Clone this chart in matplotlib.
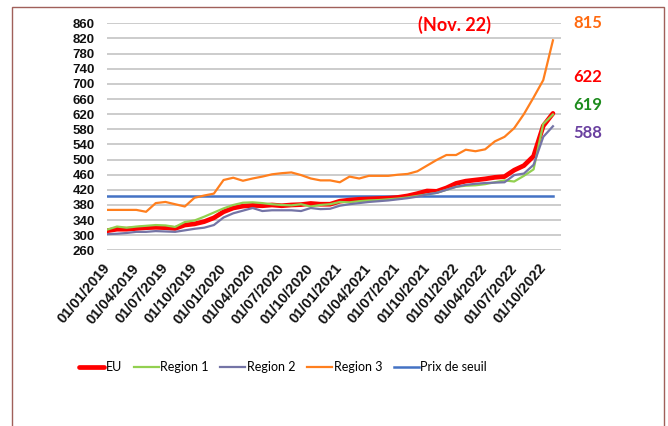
import matplotlib
matplotlib.use("Agg")
import matplotlib.pyplot as plt
import matplotlib.patches as patches
import numpy as np

# ---- data (monthly, Jan 2019 - Nov 2022) ----
months = [f"01/{m:02d}/{y}" for y in range(2019, 2023) for m in range(1, 13)][:47]

eu = [312, 316, 316, 318, 320, 321, 320, 318, 327, 330, 336, 346,
      362, 372, 377, 379, 378, 380, 378, 380, 381, 384, 382, 382,
      390, 393, 395, 396, 397, 398, 400, 404, 410, 417, 416, 425,
      437, 443, 446, 449, 453, 455, 472, 484, 509, 589, 622]
region1 = [315, 323, 320, 323, 325, 327, 326, 322, 335, 339, 349, 360,
           371, 380, 386, 387, 385, 382, 380, 379, 382, 376, 380, 382,
           388, 387, 390, 392, 393, 395, 397, 400, 404, 408, 412, 420,
           428, 431, 432, 435, 440, 445, 442, 457, 474, 594, 619]
region2 = [303, 304, 306, 309, 309, 311, 310, 309, 313, 317, 320, 327,
           347, 358, 365, 372, 364, 366, 366, 366, 364, 372, 369, 370,
           378, 382, 385, 388, 390, 392, 395, 398, 402, 408, 412, 420,
           428, 433, 436, 438, 439, 440, 459, 463, 486, 560, 588]
region3 = [367, 367, 367, 367, 362, 385, 388, 382, 376, 399, 405, 410,
           446, 452, 444, 450, 455, 461, 464, 466, 459, 450, 445, 445,
           440, 455, 450, 457, 457, 457, 460, 462, 469, 484, 499, 512,
           512, 526, 522, 527, 548, 560, 583, 620, 664, 710, 815]
prix_seuil = [404] * 47

series_names = ["EU", "Region 1", "Region 2", "Region 3", "Prix de seuil"]
end_labels = ["815", "622", "619", "588"]
y_ticks = list(range(260, 861, 40))
x_tick_idx = list(range(0, 47, 3))

# ---- figure ----
W, H = 668, 426
fig = plt.figure(figsize=(W / 100, H / 100), dpi=100)

ax = fig.add_axes([107.3 / W, 1 - 250.4 / H, (560.7 - 107.3) / W, (250.4 - 23.3) / H])
x = np.arange(len(eu))

ax.plot(x, eu, color="#FF0000", lw=3.4, label=series_names[0], solid_capstyle="round", zorder=3)
ax.plot(x, region1, color="#92D050", lw=1.6, label=series_names[1], zorder=4)
ax.plot(x, region2, color="#7474A6", lw=1.6, label=series_names[2], zorder=4)
ax.plot(x, region3, color="#FF7F1E", lw=1.6, label=series_names[3], zorder=4)
ax.plot(x, prix_seuil, color="#4472C4", lw=1.8, label=series_names[4], zorder=2)

ax.set_xlim(0, 46.8)
ax.set_ylim(260, 860)
ax.set_yticks(y_ticks)
ax.set_yticklabels([str(v) for v in y_ticks], fontsize=9.5, family="Liberation Sans",
                   fontweight="bold", color="#111111")
ax.yaxis.grid(True, color="#C8C8C8", lw=1.3)
ax.set_axisbelow(True)
for s in ax.spines.values():
    s.set_visible(False)
ax.tick_params(axis="y", length=0, pad=9)
ax.tick_params(axis="x", length=0, pad=11)

ax.set_xticks(x_tick_idx)
ax.set_xticklabels([months[i] for i in x_tick_idx], rotation=50, ha="right", va="center",
                   rotation_mode="anchor", fontsize=10.5, family="Liberation Sans",
                   fontweight="bold", color="#111111")

# annotations
fig.text(455 / W, 1 - 25 / H, "(Nov. 22)", color="#FF0000", fontsize=13, fontweight="bold",
         family="Lato", ha="center", va="center")
label_colors = ["#FF6A10", "#FF0000", "#1E8C1E", "#6A40A0"]
label_y = [23, 77, 105, 133]
for t, c, yy in zip(end_labels, label_colors, label_y):
    fig.text(573 / W, 1 - yy / H, t, color=c, fontsize=12, fontweight="bold",
             family="Lato", ha="left", va="center")

# legend
fig.legend(loc="center left", bbox_to_anchor=(68 / W, 1 - 367 / H), ncol=5, frameon=False,
           prop={"family": "Lato", "size": 9}, handlelength=2.0, columnspacing=0.9,
           handletextpad=0.15)

# outer frame
rect = patches.Rectangle((12 / W, -0.1), (664 - 12) / W, 1.1 - 7 / H, transform=fig.transFigure,
                         fill=False, edgecolor="#A0605A", lw=1.0)
fig.patches.append(rect)

fig.savefig("out.png", dpi=100)
